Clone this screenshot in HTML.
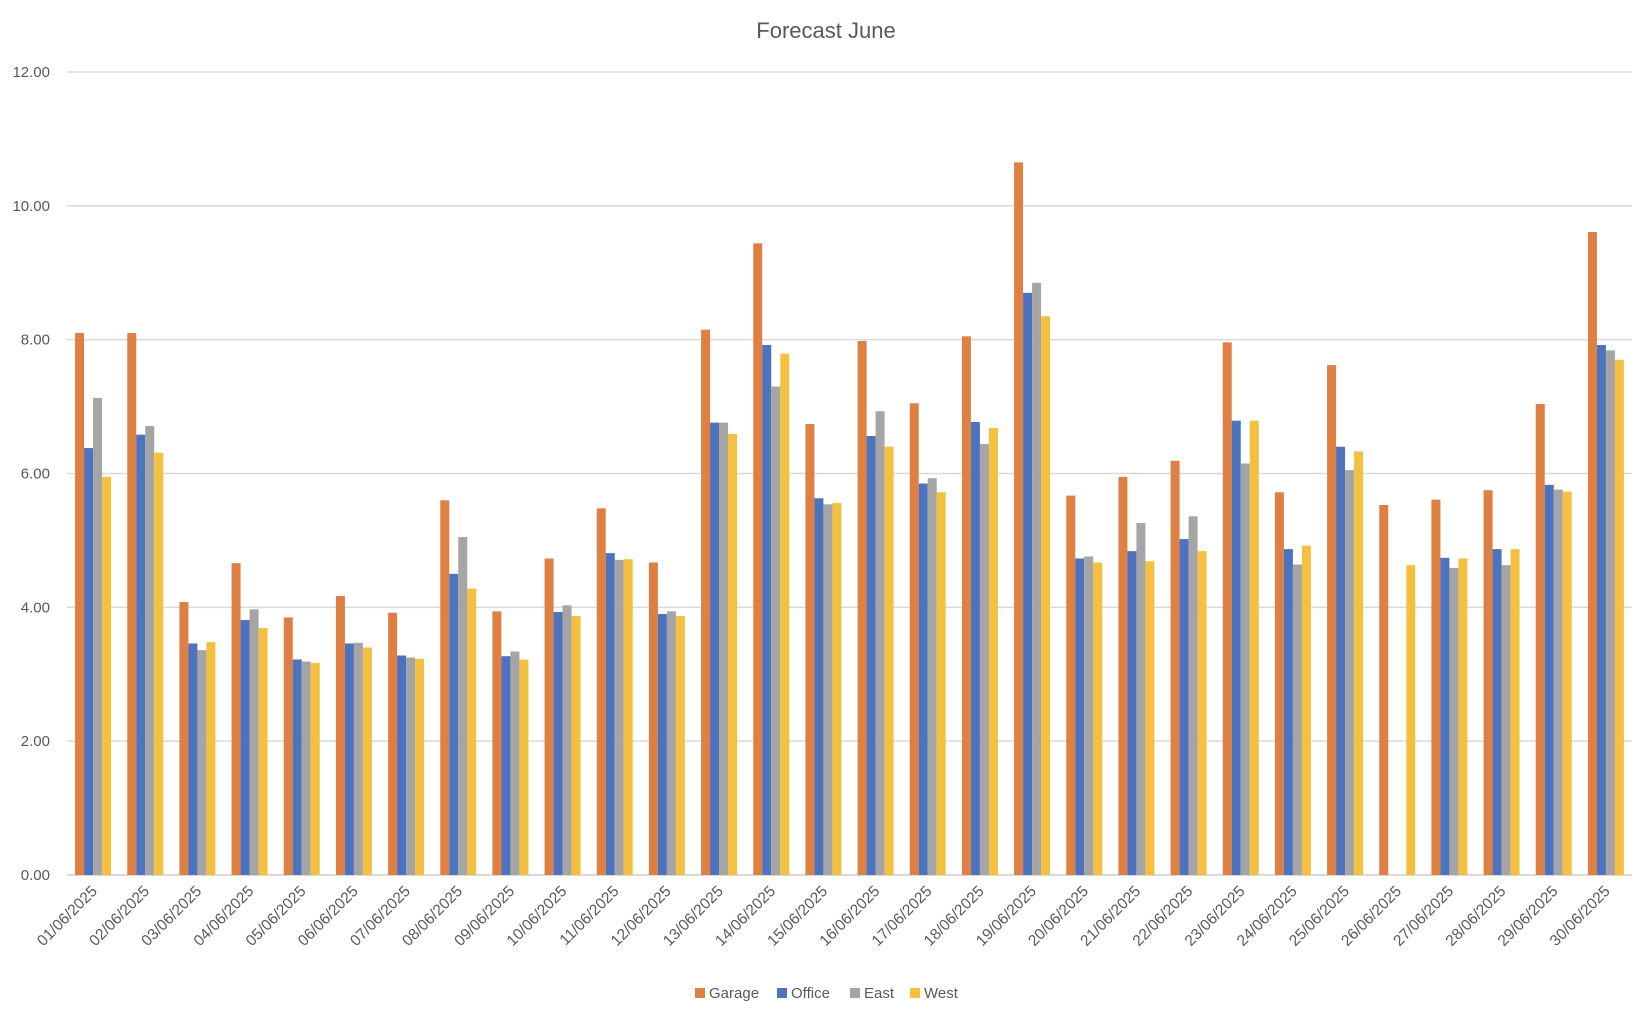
<!DOCTYPE html>
<html><head><meta charset="utf-8"><style>
body{margin:0;background:#fff;}
svg{display:block;font-family:"Liberation Sans",sans-serif;}
</style></head><body>
<svg id="chart" width="1652" height="1020" viewBox="0 0 1652 1020" xmlns="http://www.w3.org/2000/svg">
<text x="826" y="38" text-anchor="middle" font-size="22" fill="#595959">Forecast June</text>
<g id="grid"></g><g id="bars"></g><g id="xlabels"></g>
<g font-size="15" fill="#595959">
<g><rect x="695" y="988" width="10" height="10" fill="#DD8042"/><text x="709" y="998">Garage</text></g>
<g><rect x="777" y="988" width="10" height="10" fill="#4E73BE"/><text x="791" y="998">Office</text></g>
<g><rect x="850" y="988" width="10" height="10" fill="#A5A5A5"/><text x="864" y="998">East</text></g>
<g><rect x="910" y="988" width="10" height="10" fill="#F4C040"/><text x="924" y="998">West</text></g>
</g>
</svg>
<script>
const categories=["01/06/2025","02/06/2025","03/06/2025","04/06/2025","05/06/2025","06/06/2025","07/06/2025","08/06/2025","09/06/2025","10/06/2025","11/06/2025","12/06/2025","13/06/2025","14/06/2025","15/06/2025","16/06/2025","17/06/2025","18/06/2025","19/06/2025","20/06/2025","21/06/2025","22/06/2025","23/06/2025","24/06/2025","25/06/2025","26/06/2025","27/06/2025","28/06/2025","29/06/2025","30/06/2025"];
const garage=[8.1,8.1,4.08,4.66,3.85,4.17,3.92,5.6,3.94,4.73,5.48,4.67,8.15,9.44,6.74,7.98,7.05,8.05,10.65,5.67,5.95,6.19,7.96,5.72,7.62,5.53,5.61,5.75,7.04,9.61];
const office=[6.38,6.58,3.46,3.81,3.22,3.46,3.28,4.5,3.27,3.93,4.81,3.9,6.76,7.92,5.63,6.56,5.85,6.77,8.7,4.73,4.84,5.02,6.79,4.87,6.4,0,4.74,4.87,5.83,7.92];
const east=[7.13,6.71,3.36,3.97,3.19,3.47,3.25,5.05,3.34,4.03,4.71,3.94,6.76,7.3,5.54,6.93,5.93,6.44,8.85,4.76,5.26,5.36,6.15,4.64,6.05,0,4.59,4.63,5.76,7.84];
const west=[5.95,6.31,3.48,3.69,3.17,3.4,3.23,4.28,3.22,3.87,4.72,3.87,6.59,7.79,5.56,6.4,5.72,6.68,8.35,4.67,4.69,4.84,6.79,4.92,6.33,4.63,4.73,4.87,5.73,7.7];
const yTicks=["0.00","2.00","4.00","6.00","8.00","10.00","12.00"];
const seriesNames=["garage","office","east","west"];
const NS="http://www.w3.org/2000/svg";
const L=67,R=1632,T=72,B=875,YMAX=12;
const y=v=>B-(v/YMAX)*(B-T);
const gw=(R-L)/categories.length;
const x=i=>L+gw*i;
const colors=["#DD8042","#4E73BE","#A5A5A5","#F4C040"];
const grid=document.getElementById('grid');
yTicks.forEach(t=>{const v=parseFloat(t);
const ln=document.createElementNS(NS,'line');


ln.setAttribute('x1',L);ln.setAttribute('x2',R);ln.setAttribute('y1',y(v));ln.setAttribute('y2',y(v));
ln.setAttribute('stroke','#D9D9D9');ln.setAttribute('stroke-width',v===0?2:1.5);grid.appendChild(ln);
const tx=document.createElementNS(NS,'text');


tx.setAttribute('x',50);tx.setAttribute('y',y(v)+5);tx.setAttribute('text-anchor','end');tx.setAttribute('font-size','15');tx.setAttribute('fill','#595959');tx.textContent=t;grid.appendChild(tx);});
const bars=document.getElementById('bars');
const data=[garage,office,east,west];const bw=9;
categories.forEach((c,i)=>{const start=x(i)+gw/2-2*bw;
data.forEach((s,k)=>{const v=s[i];if(!v)return;
const r=document.createElementNS(NS,'rect');


r.setAttribute('x',start+k*bw);r.setAttribute('width',bw);r.setAttribute('y',y(v));r.setAttribute('height',B-y(v));r.setAttribute('fill',colors[k]);bars.appendChild(r);});
const tx=document.createElementNS(NS,'text');


const cx=x(i)+gw/2+5,cy=892;
tx.setAttribute('x',cx);tx.setAttribute('y',cy);tx.setAttribute('text-anchor','end');tx.setAttribute('font-size','15.5');tx.setAttribute('fill','#595959');
tx.setAttribute('transform','rotate(-45 '+cx+' '+cy+')');tx.textContent=c;document.getElementById('xlabels').appendChild(tx);});
</script>
</body></html>
